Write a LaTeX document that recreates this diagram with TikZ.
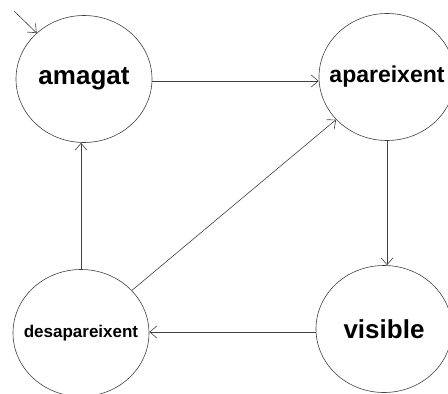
\documentclass[tikz,border=0pt]{standalone}
\usepackage{fontspec}
\setmainfont{Liberation Sans}
\usetikzlibrary{shapes.geometric,arrows.meta}
\newcommand{\zw}[1]{\makebox[0pt]{#1}}
\begin{document}
\begin{tikzpicture}[x=1pt,y=-1pt,
  state/.style={ellipse,draw=black!75,line width=0.6pt,minimum width=136pt,minimum height=127pt,inner sep=0pt,font=\bfseries},
  conn/.style={draw=black!75,line width=0.6pt,-{Straight Barb[length=7pt,width=12pt,line width=0.6pt]}}]
\useasboundingbox (0,0) rectangle (448,394);
\node[state] (amagat) at (84,79) {\fontsize{26}{28}\selectfont\zw{amagat}};
\node[state] (apar) at (387,77) {\fontsize{23}{25}\selectfont\zw{apareixent}};
\node[state] (desap) at (81,333) {\fontsize{17}{19}\selectfont\zw{desapareixent}};
\node[state] (vis) at (384,329) {\fontsize{26}{28}\selectfont\zw{visible}};
\coordinate (init) at (14,11);
\draw[conn] (init) -- (amagat);
\draw[conn] (amagat.east |- 0,81) -- (apar.west |- 0,81);
\draw[conn] (apar.south -| 387,0) -- (vis.north -| 387,0);
\draw[conn] (vis.west |- 0,332) -- (desap.east |- 0,332);
\draw[conn] (desap.north -| 81,0) -- (amagat.south -| 81,0);
\draw[conn] (desap) -- (apar);
\end{tikzpicture}
\end{document}
